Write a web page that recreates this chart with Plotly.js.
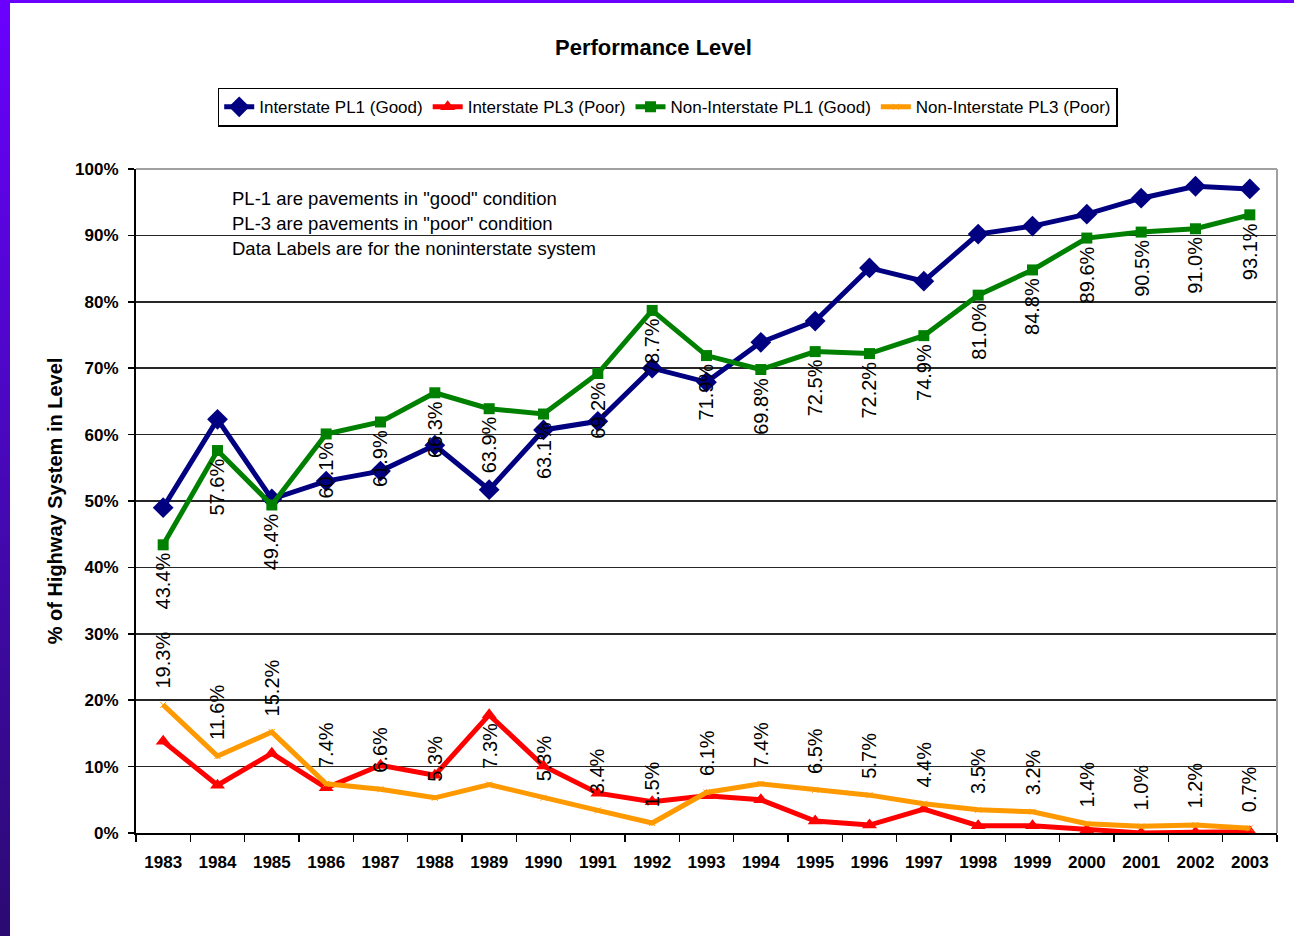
<!DOCTYPE html>
<html>
<head>
<meta charset="utf-8">
<script src="https://cdn.plot.ly/plotly-3.0.1.min.js"></script>
<style>
  html, body { margin: 0; padding: 0; background: #ffffff; }
  #wrap { position: relative; width: 1294px; height: 936px; overflow: hidden; }
  #chart { position: absolute; left: 0; top: 0; width: 1294px; height: 936px; }
  #topband { position: absolute; left: 0; top: 0; width: 1294px; height: 3px; background: #6a00ff; z-index: 5; }
  #leftband { position: absolute; left: 0; top: 0; width: 10px; height: 936px;
    background: linear-gradient(to bottom, #6a00ff 0%, #4a08c0 45%, #2b0a72 100%); z-index: 5; }
</style>
</head>
<body>
<div id="wrap">
  <div id="chart"></div>
  <div id="topband"></div>
  <div id="leftband"></div>
</div>
<script>
// ---- data (percent of highway system) ----
const years = ['1983','1984','1985','1986','1987','1988','1989','1990','1991','1992','1993',
               '1994','1995','1996','1997','1998','1999','2000','2001','2002','2003'];
const interstatePL1 = [49.0, 62.3, 50.3, 53.0, 54.5, 58.4, 51.7, 60.7, 62.0, 70.0, 67.9,
                       73.9, 77.1, 85.1, 83.1, 90.2, 91.4, 93.2, 95.6, 97.4, 97.0];
const interstatePL3 = [13.8, 7.2, 12.0, 6.8, 10.2, 8.7, 17.8, 10.1, 6.0, 4.7, 5.6,
                       5.0, 1.8, 1.2, 3.6, 1.1, 1.1, 0.5, 0.0, 0.1, 0.2];
const nonInterstatePL1 = [43.4, 57.6, 49.4, 60.1, 61.9, 66.3, 63.9, 63.1, 69.2, 78.7, 71.9,
                          69.8, 72.5, 72.2, 74.9, 81.0, 84.8, 89.6, 90.5, 91.0, 93.1];
const nonInterstatePL3 = [19.3, 11.6, 15.2, 7.4, 6.6, 5.3, 7.3, 5.3, 3.4, 1.5, 6.1,
                          7.4, 6.5, 5.7, 4.4, 3.5, 3.2, 1.4, 1.0, 1.2, 0.7];
const seriesNames = ['Interstate PL1 (Good)', 'Interstate PL3 (Poor)',
                     'Non-Interstate PL1 (Good)', 'Non-Interstate PL3 (Poor)'];
const yTickVals = [0, 10, 20, 30, 40, 50, 60, 70, 80, 90, 100];
const noteLines = ['PL-1 are pavements in "good" condition',
                   'PL-3 are pavements in "poor" condition',
                   'Data Labels are for the noninterstate system'];
const chartTitle = 'Performance Level';
const yTitle = '% of Highway System in Level';

// ---- styling ----
const FONT = '"Liberation Sans", Arial, "DejaVu Sans", sans-serif';
const colors = ['#000080', '#ff0000', '#008000', '#ff9900'];

const traces = [
  { x: years, y: interstatePL1, name: seriesNames[0], type: 'scatter', mode: 'lines+markers',
    line: { color: colors[0], width: 5 }, marker: { symbol: 'diamond', size: 16, color: colors[0] } },
  { x: years, y: interstatePL3, name: seriesNames[1], type: 'scatter', mode: 'lines+markers',
    line: { color: colors[1], width: 5 }, marker: { symbol: 'triangle-up', size: 13, color: colors[1] } },
  { x: years, y: nonInterstatePL1, name: seriesNames[2], type: 'scatter', mode: 'lines+markers',
    line: { color: colors[2], width: 5 }, marker: { symbol: 'square', size: 11, color: colors[2] } },
  { x: years, y: nonInterstatePL3, name: seriesNames[3], type: 'scatter', mode: 'lines+markers',
    line: { color: colors[3], width: 5 }, marker: { symbol: 'x-thin', size: 6, color: colors[3], line: { color: colors[3], width: 1 } } }
];

const annotations = [];
// rotated data labels for the non-interstate series (x = category index)
years.forEach((yr, i) => {
  annotations.push({
    x: i, y: nonInterstatePL1[i], xref: 'x', yref: 'y',
    text: nonInterstatePL1[i].toFixed(1) + '%', showarrow: false, textangle: -90,
    xanchor: 'center', yanchor: 'top', yshift: -6,
    font: { family: FONT, size: 20, color: '#000' }
  });
  annotations.push({
    x: i, y: nonInterstatePL3[i], xref: 'x', yref: 'y',
    text: nonInterstatePL3[i].toFixed(1) + '%', showarrow: false, textangle: -90,
    xanchor: 'center', yanchor: 'bottom', yshift: 14,
    font: { family: FONT, size: 20, color: '#000' }
  });
});
// note text box
const noteY = [0.955, 0.9175, 0.88];
noteLines.forEach((t, i) => {
  annotations.push({
    x: 0.0824, y: noteY[i], xref: 'paper', yref: 'paper', text: t, showarrow: false,
    xanchor: 'left', yanchor: 'middle', font: { family: FONT, size: 18.5, color: '#000' }
  });
});

const layout = {
  width: 1294, height: 936,
  paper_bgcolor: '#ffffff', plot_bgcolor: '#ffffff',
  margin: { l: 136, r: 17, t: 169, b: 103, pad: 0 },
  font: { family: FONT, color: '#000' },
  title: {
    text: chartTitle, xref: 'container', yref: 'container', x: 0.505, y: 0.949,
    xanchor: 'center', yanchor: 'middle',
    font: { family: FONT, size: 22, color: '#000', weight: 'bold' }
  },
  showlegend: true,
  legend: {
    orientation: 'h', x: 0.466, xanchor: 'center', y: 1.093, yanchor: 'middle',
    bgcolor: '#ffffff', bordercolor: '#000000', borderwidth: 1.5,
    font: { family: FONT, size: 17, color: '#000' }, traceorder: 'normal'
  },
  xaxis: {
    type: 'category', range: [-0.5, 20.5], fixedrange: true,
    tickson: 'boundaries', ticks: 'outside', ticklen: 7, tickwidth: 1.5, tickcolor: '#000',
    showline: true, linecolor: '#000', linewidth: 2, showgrid: false, zeroline: false,
    ticklabelstandoff: 13,
    tickfont: { family: FONT, size: 17, color: '#000', weight: 'bold' }
  },
  yaxis: {
    range: [0, 100], tickvals: yTickVals, ticktext: yTickVals.map(v => v + '%'),
    ticks: 'outside', ticklen: 6, tickwidth: 1.5, tickcolor: '#000',
    showline: true, linecolor: '#000', linewidth: 2,
    showgrid: true, gridcolor: '#262626', gridwidth: 1.5, zeroline: false,
    ticklabelstandoff: 6,
    tickfont: { family: FONT, size: 17, color: '#000', weight: 'bold' },
    title: { text: yTitle, standoff: 7, font: { family: FONT, size: 20, color: '#000', weight: 'bold' } }
  },
  shapes: [
    { type: 'line', xref: 'paper', yref: 'paper', x0: 0, x1: 1, y0: 1, y1: 1,
      line: { color: '#a0a0a0', width: 2 }, layer: 'above' },
    { type: 'line', xref: 'paper', yref: 'paper', x0: 1, x1: 1, y0: 0, y1: 1,
      line: { color: '#a0a0a0', width: 2 }, layer: 'above' }
  ],
  annotations: annotations
};

Plotly.newPlot('chart', traces, layout, { displayModeBar: false, staticPlot: true });
</script>
</body>
</html>
